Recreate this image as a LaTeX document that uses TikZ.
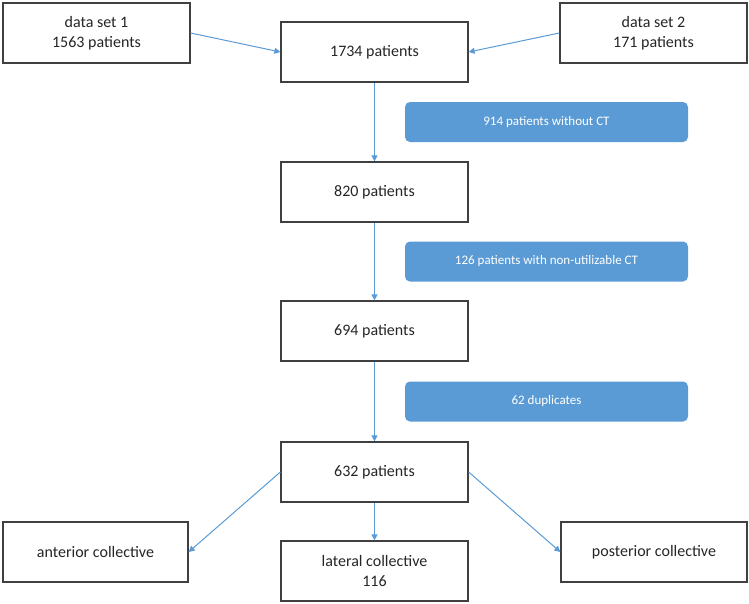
\documentclass[tikz,border=0pt]{standalone}
\usepackage{fontspec}
\setmainfont{Carlito}
\usetikzlibrary{arrows.meta}
\definecolor{flowblue}{RGB}{91,155,213}
\definecolor{boxgray}{RGB}{64,64,64}
\begin{document}
\begin{tikzpicture}[x=1pt,y=-1pt,
  wbox/.style={draw=boxgray,line width=1.3pt,fill=white,minimum width=#1,minimum height=60pt,inner sep=0pt,align=center,font=\fontsize{16}{20}\selectfont,text=black!85},
  wbox/.default=187pt,
  bbox/.style={fill=flowblue,rounded corners=5pt,minimum width=283pt,minimum height=40pt,inner sep=0pt,text=white,font=\fontsize{13}{16}\selectfont},
  conn/.style={draw=flowblue,line width=1pt,-{Triangle[length=6pt,width=6pt]}}]
\useasboundingbox (0,0) rectangle (749,603);
\node[wbox=187pt] (ds1) at (96.5,33) {data set 1\\1563 patients};
\node[wbox=187pt] (ds2) at (653.5,33) {data set 2\\171 patients};
\node[wbox] (p1734) at (374.5,52) {1734 patients};
\node[wbox] (p820) at (374.5,192) {820 patients};
\node[wbox] (p694) at (374.5,331) {694 patients};
\node[wbox] (p632) at (374.5,472) {632 patients};
\node[wbox=185pt] (ant) at (95.5,552) {anterior collective};
\node[wbox] (lat) at (374.5,571) {lateral collective\\116};
\node[wbox=186pt] (post) at (654,552) {posterior collective};
\node[bbox] (e1) at (546.5,122) {914 patients without CT};
\node[bbox] (e2) at (546.5,261.5) {126 patients with non-utilizable CT};
\node[bbox] (e3) at (546.5,401.5) {62 duplicates};
\draw[conn] (ds1.east) -- (p1734.west);
\draw[conn] (ds2.west) -- (p1734.east);
\draw[conn] (p1734) -- (p820);
\draw[conn] (p820) -- (p694);
\draw[conn] (p694) -- (p632);
\draw[conn] (p632.west) -- (ant.east);
\draw[conn] (p632) -- (lat);
\draw[conn] (p632.east) -- (post.west);
\end{tikzpicture}
\end{document}
